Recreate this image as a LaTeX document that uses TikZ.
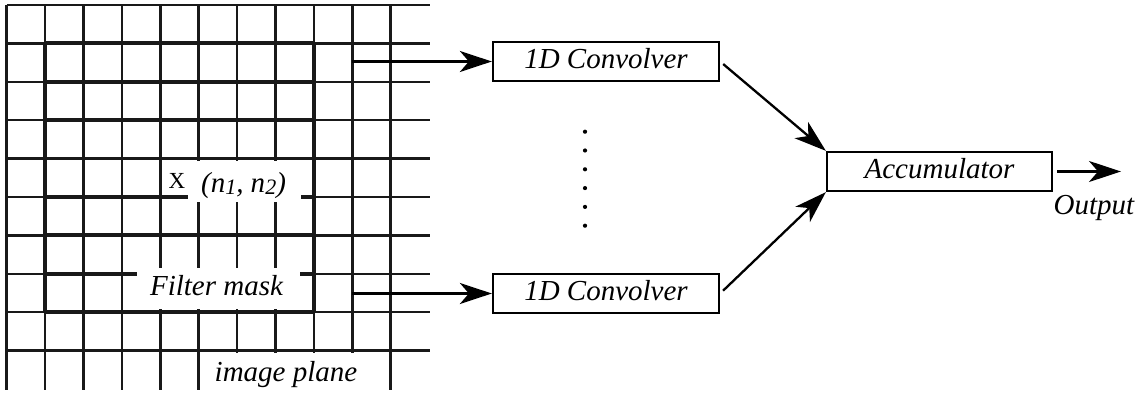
\documentclass[tikz,border=0pt]{standalone}
\usepackage{fontspec}
\setmainfont{Liberation Serif}
\usetikzlibrary{arrows.meta}
\newcommand\lowdigit[1]{\raisebox{-0.8pt}{\fontsize{11}{12}\selectfont #1}}
\begin{document}
\begin{tikzpicture}[x=0.5pt,y=-0.5pt,
  lbl/.style={font=\fontsize{14.5}{17}\selectfont\itshape, inner sep=0pt},
  gridline/.style={line width=1.25pt, black!90},
  maskline/.style={line width=1.9pt, black!90},
  blockbox/.style={draw, line width=1.15pt, rectangle, inner sep=0pt,
    minimum height=19.5pt, text height=10pt, text depth=2.5pt,
    font=\fontsize{14.5}{17}\selectfont\itshape},
  flow/.style={line width=1.15pt, -{Stealth[length=16pt,width=10.5pt,inset=4.5pt]}},
  whitebox/.style={fill=white, draw=none}]
\useasboundingbox (0,0) rectangle (1138,394);

% image plane grid: 11 columns, 10 rows
\foreach \j in {0,...,9}
  \draw[gridline] (6.7,{5+38.4*\j}) -- (430,{5+38.4*\j});
\foreach \i in {0,...,10}
  \draw[gridline] ({6.7+38.4*\i},5) -- ({6.7+38.4*\i},390);

% filter mask: heavier rows and border
\foreach \j in {1,...,8}
  \draw[maskline] (45.1,{5+38.4*\j}) -- (313.9,{5+38.4*\j});
\draw[maskline] (45.1,43.4) -- (45.1,312.2);
\draw[maskline] (313.9,43.4) -- (313.9,312.2);

% clear space behind labels on the grid
\fill[whitebox] (188,161) rectangle (301,202);
\fill[whitebox] (137,268) rectangle (300,309.3);
\fill[whitebox] (202,353) rectangle (385,394);

% labels on the grid
\node[anchor=base, inner sep=0pt, font=\fontsize{11.5}{13}\selectfont] (xmark) at (177,189) {X};
\node[lbl, anchor=base] (pos) at (243.5,193) {(n\lowdigit{1}, n\lowdigit{2})};
\node[lbl, anchor=base] (mask) at (216.5,296) {Filter mask};
\node[lbl, anchor=base] (plane) at (286,381) {image plane};

% processing blocks
\node[blockbox, minimum width=113pt] (conv1) at (606,61.5) {1D Convolver};
\node[blockbox, minimum width=113pt] (conv2) at (606,293.5) {1D Convolver};
\node[blockbox, minimum width=112.5pt] (acc) at (939.5,171.5) {Accumulator};

% row taps leaving the grid
\coordinate (tap1) at (352.3,61.5);
\coordinate (tap2) at (352.3,293.5);
\draw[flow] (tap1) -- (conv1.west);
\draw[flow] (tap2) -- (conv2.west);

% vertical ellipsis between the convolvers
\foreach \k in {0,...,5}
  \fill (585,{131.7+18.8*\k}) circle (1.05pt);

% into the accumulator and out
\draw[flow, shorten <=2pt] (conv1.east) -- (acc.north west);
\draw[flow, shorten <=2pt] (conv2.east) -- (acc.south west);
\coordinate (out) at (1121,171.5);
\draw[flow, shorten <=2pt] (acc.east) -- (out);
\node[lbl, anchor=base] (outlbl) at (1094,215) {Output};
\end{tikzpicture}
\end{document}
